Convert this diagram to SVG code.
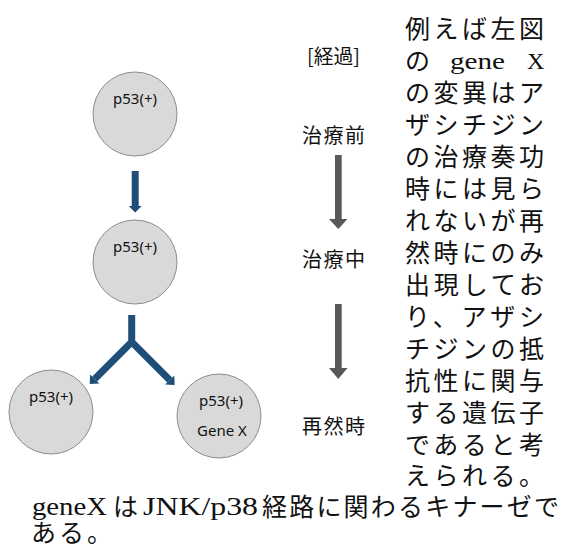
<svg xmlns="http://www.w3.org/2000/svg" width="563" height="551" viewBox="0 0 563 551">
<style>
.cell{fill:#d9d9d9;stroke:#8c8c8c;stroke-width:1}
.lbl{font-family:"Noto Sans","Noto Sans CJK JP",sans-serif;font-size:15px;fill:#111;text-anchor:middle}
.stage{font-family:"Noto Sans CJK JP",sans-serif;font-size:20px;fill:#111}
.jp{font-family:"Noto Sans CJK JP",sans-serif;font-size:25px;fill:#111}
.jpb{font-family:"Noto Sans CJK JP",sans-serif;font-size:25px;fill:#111}
.ser{font-family:"Liberation Serif","Noto Sans CJK JP",serif;fill:#111}
.blue{fill:#1f4e79}
.gray{fill:#595959}
</style>
<rect width="563" height="551" fill="#ffffff"/>
<g id="cell-before">
<circle class="cell" cx="135" cy="114" r="42"/>
<text class="lbl" x="135" y="104">p53(+)</text>
</g>
<g id="cell-during">
<circle class="cell" cx="135" cy="262" r="42"/>
<text class="lbl" x="135" y="252">p53(+)</text>
</g>
<g id="cell-relapse-a">
<circle class="cell" cx="51" cy="412" r="42"/>
<text class="lbl" x="51" y="402">p53(+)</text>
</g>
<g id="cell-relapse-b">
<circle class="cell" cx="219" cy="416" r="42"/>
<text class="lbl" x="221" y="406">p53(+)</text>
<text class="lbl" x="222" y="436">Gene X</text>
</g>
<g id="connectors">
<polygon class="blue" points="131.7,171 138.7,171 138.7,206 141.7,206 135.2,212.5 128.7,206 131.7,206"/>
<path d="M131.7,315 V342 M94.7,379 L131.7,342 L169.7,380" fill="none" stroke="#1f4e79" stroke-width="7" stroke-linejoin="miter"/>
<polygon class="blue" points="89.75,383.95 99.3,383.6 90.1,374.4"/>
<polygon class="blue" points="174.65,384.95 174.3,375.4 165.1,384.6"/>
<polygon class="gray" points="335,155 341.7,155 341.7,219 347.5,219 338.3,229 329,219 335,219"/>
<polygon class="gray" points="335,304 341.7,304 341.7,368 347.5,368 338.3,379 329,368 335,368"/>
</g>
<g id="stages">
<text class="stage" x="307" y="64" font-size="18" textLength="53" lengthAdjust="spacingAndGlyphs">[経過]</text>
<text class="stage" x="302" y="143" textLength="63" lengthAdjust="spacing">治療前</text>
<text class="stage" x="302" y="267" textLength="63" lengthAdjust="spacing">治療中</text>
<text class="stage" x="302" y="434" textLength="63" lengthAdjust="spacing">再然時</text>
</g>
<g id="note">
<text class="jp" x="405" y="38" textLength="139" lengthAdjust="spacing">例えば左図</text>
<text class="jp" x="405" y="70">の</text>
<text class="ser" x="450" y="69" font-size="24" textLength="55" lengthAdjust="spacingAndGlyphs">gene</text>
<text class="ser" x="527" y="69" font-size="24">X</text>
<text class="jp" x="405" y="102" textLength="139" lengthAdjust="spacing">の変異はア</text>
<text class="jp" x="405" y="134" textLength="139" lengthAdjust="spacing">ザシチジン</text>
<text class="jp" x="405" y="166" textLength="139" lengthAdjust="spacing">の治療奏功</text>
<text class="jp" x="405" y="198" textLength="139" lengthAdjust="spacing">時には見ら</text>
<text class="jp" x="405" y="230" textLength="139" lengthAdjust="spacing">れないが再</text>
<text class="jp" x="405" y="262" textLength="139" lengthAdjust="spacing">然時にのみ</text>
<text class="jp" x="405" y="294" textLength="139" lengthAdjust="spacing">出現してお</text>
<text class="jp" x="405" y="326" textLength="139" lengthAdjust="spacing">り、アザシ</text>
<text class="jp" x="405" y="358" textLength="139" lengthAdjust="spacing">チジンの抵</text>
<text class="jp" x="405" y="390" textLength="139" lengthAdjust="spacing">抗性に関与</text>
<text class="jp" x="405" y="422" textLength="139" lengthAdjust="spacing">する遺伝子</text>
<text class="jp" x="405" y="454" textLength="139" lengthAdjust="spacing">であると考</text>
<text class="jp" x="405" y="485" textLength="139" lengthAdjust="spacing">えられる。</text>
</g>
<g id="caption">
<text class="ser" x="32" y="515" font-size="25" textLength="75" lengthAdjust="spacingAndGlyphs">geneX</text>
<text class="jpb" x="113" y="516">は</text>
<text class="ser" x="143" y="515" font-size="25" textLength="115" lengthAdjust="spacingAndGlyphs">JNK/p38</text>
<text class="jpb" x="262" y="516" textLength="297" lengthAdjust="spacing">経路に関わるキナーゼで</text>
<text class="jpb" x="31" y="542" textLength="81" lengthAdjust="spacing">ある。</text>
</g>
</svg>
